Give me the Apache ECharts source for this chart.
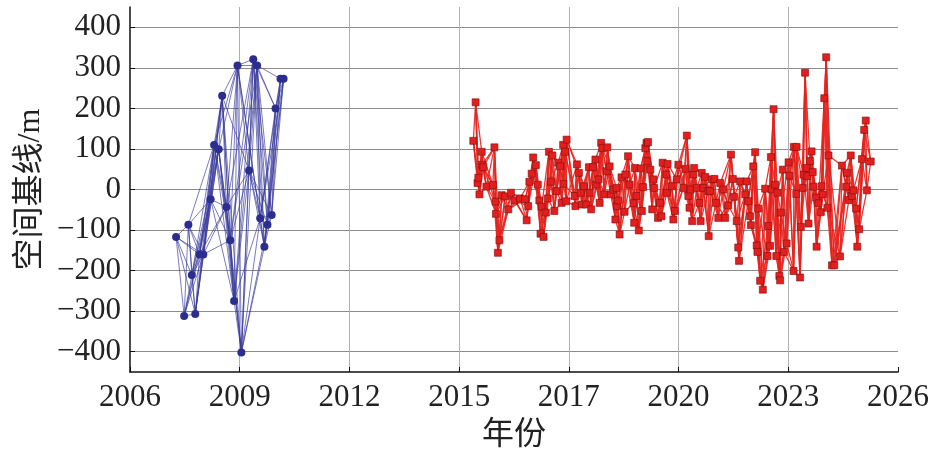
<!DOCTYPE html>
<html>
<head>
<meta charset="utf-8">
<script src="https://cdn.jsdelivr.net/npm/echarts@6/dist/echarts.min.js"></script>
<style>
  html, body { margin: 0; padding: 0; background: #fff; }
  #chart { width: 934px; height: 462px; }
</style>
</head>
<body>
<div id="chart"></div>
<script>
// x axis runs in years counted from 2006, ticks every 20/7 years
const yearOrigin = 2006;
const yearSpan = 20;
const xTickLabels = ['2006', '2009', '2012', '2015', '2017', '2020', '2023', '2026'];
const yMin = -450;
const yMax = 450;

// ALOS acquisitions (decimal year, perpendicular baseline in m)
const blueYears = [2007.20, 2007.41, 2007.52, 2007.61, 2007.70, 2007.81, 2007.91, 2008.10,
  2008.19, 2008.31, 2008.40, 2008.51, 2008.61, 2008.71, 2008.80, 2008.90, 2009.10, 2009.21,
  2009.31, 2009.39, 2009.50, 2009.58, 2009.69, 2009.79, 2009.92, 2010.00];
const blueBaselines = [-117, -312, -87, -211, -307, -160, -160, -24, 110, 99, 231, -43, -125,
  -275, 306, -402, 47, 321, 306, -71, -141, -87, -63, 200, 273, 273];

// Sentinel-1 acquisitions [decimal year, baseline]
const redPoints = [
  [2014.94, 120], [2015.00, 215], [2015.05, 16], [2015.07, 29], [2015.10, -12], [2015.16, 93],
  [2015.17, 61], [2015.20, 55], [2015.28, 7], [2015.45, 11], [2015.49, 104], [2015.52, -30],
  [2015.53, -60], [2015.58, -156], [2015.62, -125], [2015.68, -14], [2015.77, -17], [2015.85, -49],
  [2015.92, -8], [2016.01, -27], [2016.16, -22], [2016.29, -24], [2016.33, -76], [2016.37, -41],
  [2016.40, 19], [2016.46, 39], [2016.50, 79], [2016.57, 60], [2016.62, 12], [2016.66, -27],
  [2016.69, -109], [2016.72, -42], [2016.77, -117], [2016.83, -57], [2016.88, -22], [2016.91, 93],
  [2016.96, 19], [2017.00, 84], [2017.05, -53], [2017.11, -4], [2017.15, 66], [2017.20, 57],
  [2017.24, -33], [2017.28, 110], [2017.29, 14], [2017.33, 93], [2017.36, -29], [2017.37, 123],
  [2017.58, -16], [2017.60, -41], [2017.64, 62], [2017.69, 41], [2017.74, -8], [2017.77, -37],
  [2017.82, 8], [2017.88, -37], [2017.95, 55], [2017.97, -8], [2018.01, -49], [2018.06, 55],
  [2018.12, 74], [2018.14, 12], [2018.20, 25], [2018.23, -33], [2018.27, 115], [2018.30, 102],
  [2018.35, -12], [2018.41, 45], [2018.43, 104], [2018.49, 57], [2018.52, -12], [2018.59, 0],
  [2018.64, -74], [2018.67, 4], [2018.68, -41], [2018.71, -27], [2018.75, -111], [2018.80, 30],
  [2018.88, -55], [2018.90, 37], [2018.97, 82], [2019.01, 12], [2019.11, -34], [2019.13, -82],
  [2019.15, 53], [2019.19, -16], [2019.25, -101], [2019.30, 52], [2019.33, -53], [2019.36, 6],
  [2019.42, 102], [2019.45, 115], [2019.47, 70], [2019.49, 117], [2019.55, 49], [2019.60, -49],
  [2019.63, 25], [2019.65, 4], [2019.75, -70], [2019.80, -33], [2019.84, -66], [2019.87, 66],
  [2019.97, 37], [2019.98, -8], [2020.00, 63], [2020.11, 8], [2020.15, -74], [2020.19, -53],
  [2020.24, 25], [2020.28, 61], [2020.41, 4], [2020.46, 51], [2020.50, 133], [2020.54, -16],
  [2020.57, -45], [2020.60, 0], [2020.64, -78], [2020.67, 37], [2020.69, 53], [2020.76, 4],
  [2020.83, -33], [2020.86, -78], [2020.89, 41], [2020.93, 4], [2020.98, 31], [2021.06, -4],
  [2021.07, -115], [2021.11, -4], [2021.15, 25], [2021.22, 26], [2021.26, -33], [2021.32, -70],
  [2021.37, 16], [2021.45, 0], [2021.50, -70], [2021.58, -39], [2021.65, 86], [2021.70, 26],
  [2021.73, -18], [2021.80, -78], [2021.84, -143], [2021.86, -176], [2021.89, 20], [2022.02, -12],
  [2022.06, 20], [2022.10, -29], [2022.15, -66], [2022.17, -88], [2022.23, 57], [2022.28, 92],
  [2022.32, -138], [2022.34, -154], [2022.36, -47], [2022.41, -225], [2022.48, -247], [2022.54, 2],
  [2022.60, -164], [2022.62, -90], [2022.67, -139], [2022.69, 80], [2022.71, 0], [2022.76, 198],
  [2022.80, 12], [2022.83, -164], [2022.86, -8], [2022.91, -213], [2022.93, -224], [2022.95, -57],
  [2023.00, 49], [2023.03, -154], [2023.10, -133], [2023.15, 67], [2023.17, 34], [2023.28, -201],
  [2023.29, 105], [2023.35, -11], [2023.36, 105], [2023.45, -217], [2023.47, -92], [2023.52, 4],
  [2023.54, 37], [2023.58, 288], [2023.62, 53], [2023.64, 33], [2023.67, -84], [2023.71, 70],
  [2023.75, 94], [2023.78, 43], [2023.80, 7], [2023.87, -20], [2023.88, -141], [2023.93, -34],
  [2023.99, -56], [2024.01, 8], [2024.04, -12], [2024.08, 225], [2024.13, 326], [2024.16, -45],
  [2024.19, 84], [2024.28, -187], [2024.34, -187], [2024.49, -165], [2024.54, 59], [2024.65, 7],
  [2024.67, 41], [2024.72, -26], [2024.77, 84], [2024.80, -16], [2024.84, -2], [2024.91, -47],
  [2024.94, -141], [2024.99, -98], [2025.06, 75], [2025.12, 147], [2025.16, 170], [2025.19, -2],
  [2025.29, 69],
];

// interferogram network: each scene paired with the next few scenes
const blueSpan = 6;
const redSpan = 4;

const makeLinks = (count, span) => {
  const links = [];
  for (let i = 0; i < count; i++) {
    for (let k = 1; k <= span && i + k < count; k++) {
      links.push({ source: i, target: i + k });
    }
  }
  return links;
};

const serif = "'Liberation Serif', 'Noto Sans CJK SC', serif";
const xStep = yearSpan / (xTickLabels.length - 1);

const chart = echarts.init(document.getElementById('chart'), null, { renderer: 'canvas' });

chart.setOption({
  animation: false,
  backgroundColor: '#fff',
  grid: { left: 130, right: 36, top: 7, bottom: 90 },
  xAxis: {
    type: 'value',
    min: 0,
    max: yearSpan,
    interval: xStep,
    name: '年份',
    nameLocation: 'middle',
    nameGap: 48,
    nameTextStyle: { fontFamily: serif, fontSize: 32, color: '#222' },
    axisLine: { onZero: false, lineStyle: { color: '#111', width: 1.5 } },
    axisTick: { inside: true, length: 5, lineStyle: { color: '#111' } },
    axisLabel: {
      margin: 10,
      fontFamily: serif,
      fontSize: 31,
      color: '#222',
      formatter: (v) => xTickLabels[Math.round(v / xStep)] || '',
    },
    splitLine: {
      show: true,
      showMinLine: false,
      showMaxLine: false,
      lineStyle: { color: '#b0b0b0', width: 1 },
    },
  },
  yAxis: {
    type: 'value',
    min: yMin,
    max: yMax,
    splitNumber: 9,
    name: '空间基线/m',
    nameLocation: 'middle',
    nameRotate: 90,
    nameGap: 80,
    nameTextStyle: { fontFamily: serif, fontSize: 32, color: '#222' },
    axisLine: { show: true, onZero: false, lineStyle: { color: '#111', width: 1.5 } },
    axisTick: { show: true, inside: true, length: 5, lineStyle: { color: '#111' } },
    axisLabel: {
      margin: 9,
      fontFamily: serif,
      fontSize: 31,
      color: '#222',
      showMinLabel: false,
      showMaxLabel: false,
      formatter: (v) => (v % 100 === 0 ? String(v).replace('-', '\u2212') : ''),
    },
    splitLine: {
      show: true,
      showMinLine: false,
      showMaxLine: false,
      lineStyle: { color: '#8c8c8c', width: 1 },
    },
  },
  series: [
    {
      name: 'ALOS',
      type: 'graph',
      coordinateSystem: 'cartesian2d',
      layout: 'none',
      silent: true,
      symbol: 'circle',
      symbolSize: 8,
      data: blueYears.map((y, i) => ({ value: [y - yearOrigin, blueBaselines[i]] })),
      links: makeLinks(blueYears.length, blueSpan),
      itemStyle: { color: '#2c2e8f' },
      lineStyle: { color: '#3a3c9c', width: 0.8, opacity: 0.85, curveness: 0 },
      emphasis: { disabled: true },
    },
    {
      name: 'Sentinel-1',
      type: 'graph',
      coordinateSystem: 'cartesian2d',
      layout: 'none',
      silent: true,
      symbol: 'rect',
      symbolSize: 7,
      data: redPoints.map(([y, b]) => ({ value: [y - yearOrigin, b] })),
      links: makeLinks(redPoints.length, redSpan),
      itemStyle: { color: '#e41d1d', borderColor: '#7a1010', borderWidth: 0.6 },
      lineStyle: { color: '#e6241f', width: 1.3, opacity: 0.9, curveness: 0 },
      emphasis: { disabled: true },
    },
  ],
});
</script>
</body>
</html>
